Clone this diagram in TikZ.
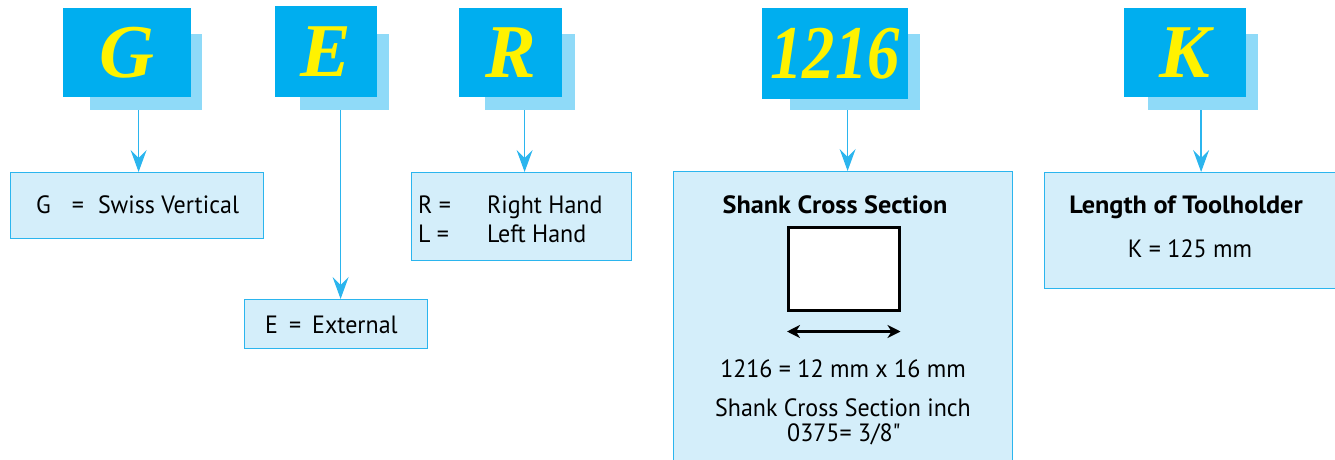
\documentclass[tikz,border=0pt]{standalone}
\usepackage{fontspec}
\setmainfont{Liberation Serif}
\setsansfont{PT Sans}
\newfontfamily\descfont{PT Sans}[FakeStretch=0.96]
\newfontfamily\descbold{PT Sans}[FakeStretch=1.05]
\newfontfamily\plainsans{PT Sans}[FakeStretch=0.96]
\usetikzlibrary{arrows.meta}
\definecolor{cyanmain}{HTML}{00AEEF}
\definecolor{cyanshadow}{HTML}{8FDAF8}
\definecolor{descfill}{HTML}{D4EEFA}
\definecolor{descline}{HTML}{2BB5EE}
\definecolor{letteryellow}{HTML}{FFF200}
\begin{document}
\begin{tikzpicture}[x=1pt,y=-1pt,
  letterbox/.style={fill=cyanmain, inner sep=0pt, anchor=north west, text=letteryellow,
    font=\fontsize{76}{76}\selectfont\bfseries\itshape},
  shadowbox/.style={fill=cyanshadow, inner sep=0pt, anchor=north west},
  descbox/.style={draw=descline, fill=descfill, line width=1.2pt, inner sep=0pt, anchor=north west},
  conn/.style={draw=descline, line width=1.5pt, -{Stealth[length=22pt,width=16pt,inset=8pt]}},
  txt/.style={font=\descfont\fontsize{25}{25}\selectfont, inner sep=0pt, anchor=base},
  btxt/.style={font=\descbold\bfseries\fontsize{25}{25}\selectfont, inner sep=0pt, anchor=base},
  dimarrow/.style={draw=black, line width=2.2pt, {Stealth[length=13pt,width=13pt,inset=4pt]}-{Stealth[length=13pt,width=13pt,inset=4pt]}},
  squarebox/.style={draw=black, fill=white, line width=2.5pt, inner sep=0pt, anchor=north west}
]
\useasboundingbox (0,0) rectangle (1335,460);

% letter boxes with shadows
\node[shadowbox, minimum width=112pt, minimum height=76pt] (gsh) at (90,34) {};
\node[letterbox, minimum width=128pt, minimum height=89pt] (g) at (63,8) {G};
\node[shadowbox, minimum width=89pt, minimum height=76pt] (esh) at (300,34) {};
\node[letterbox, minimum width=102pt, minimum height=91pt] (e) at (275,6) {E};
\node[shadowbox, minimum width=90pt, minimum height=76pt] (rsh) at (485,34) {};
\node[letterbox, minimum width=103pt, minimum height=89pt] (r) at (459,8) {R};
\node[shadowbox, minimum width=130pt, minimum height=76pt] (nsh) at (790,34) {};
\node[letterbox, minimum width=146pt, minimum height=91pt] (n) at (762,8) {\scalebox{0.85}[1]{1216}};
\node[shadowbox, minimum width=110pt, minimum height=76pt] (ksh) at (1148,34) {};
\node[letterbox, minimum width=122pt, minimum height=89pt] (k) at (1124,8) {K};

% description boxes
\node[descbox, minimum width=253pt, minimum height=66pt] (gd) at (10,172) {};
\node[txt, anchor=base west] (gdt) at (36,213) {G\hspace{21pt}=\hspace{14pt}Swiss Vertical};
\node[descbox, minimum width=183pt, minimum height=49pt] (ed) at (244,299) {};
\node[txt, anchor=base west] (edt) at (265,333) {E\hspace{11pt}=\hspace{11pt}External};
\node[descbox, minimum width=220pt, minimum height=88pt] (rd) at (411,172) {};
\node[txt, anchor=base west] (rdt1) at (418,213) {R =};
\node[txt, anchor=base west] (rdt2) at (487,213) {Right Hand};
\node[txt, anchor=base west] (rdt3) at (418,242) {L =};
\node[txt, anchor=base west] (rdt4) at (487,242) {Left Hand};
\node[descbox, minimum width=339pt, minimum height=300pt] (nd) at (673,171) {};
\node[btxt] (ndt) at (835,213) {Shank Cross Section};
\node[squarebox, minimum width=111pt, minimum height=83pt] (sq) at (787,226) {};
\draw[dimarrow] ([yshift=-20pt]sq.south west) -- ([yshift=-20pt]sq.south east);
\node[txt] (nd1) at (843,377) {1216 = 12 mm x 16 mm};
\node[txt] (nd2) at (843,416) {Shank Cross Section inch};
\node[txt] (nd3) at (844,441) {0375= 3/8{\plainsans"}};
\node[descbox, minimum width=295pt, minimum height=116pt] (kd) at (1044,172) {};
\node[btxt] (kdt) at (1186,213) {Length of Toolholder};
\node[txt] (kd1) at (1190,257) {K = 125 mm};

% connectors
\draw[conn] ([xshift=1.5pt]gd.north |- gsh.south) -- ([xshift=1.5pt]gd.north);
\draw[conn] ([xshift=4.5pt]ed.north |- esh.south) -- ([xshift=4.5pt]ed.north);
\draw[conn] ([xshift=3pt]rd.north |- rsh.south) -- ([xshift=3pt]rd.north);
\draw[conn] ([xshift=4.5pt]nd.north |- nsh.south) -- ([xshift=4.5pt]nd.north);
\draw[conn] ([xshift=9pt]kd.north |- ksh.south) -- ([xshift=9pt]kd.north);
\end{tikzpicture}
\end{document}
